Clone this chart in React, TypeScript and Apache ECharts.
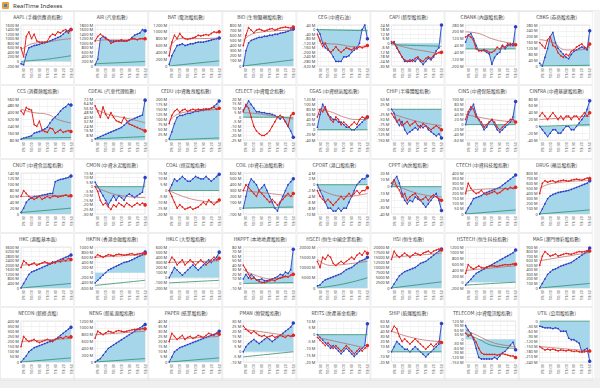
import React, { useEffect, useRef } from "react";
import * as echarts from "echarts";

const times = ["09:15","09:30","09:40","09:50","10:00","10:10","10:20","10:30","10:40","10:50","11:00","11:10","11:20","11:30","13:00","13:10","13:20","13:30","13:40","13:50"];
const labelIdx = [0, 1, 4, 7, 10, 13, 16, 19];

const titles = [
  "AAPL (手機供應商指數)", "AIR (汽車指數)", "BAT (電池股指數)", "BIO (生物醫藥股指數)", "CEG (中資石油)", "CAPI (新型股指數)", "CBANK (內銀股指數)", "CBKG (券商股指數)",
  "CCS (消費類股指數)", "CDEAL (汽車代理指數)", "CEDU (中資教育股指數)", "CELECT (中資電企指數)", "CGAS (中資燃氣股指數)", "CHIP (半導體股指數)", "CINS (中資保險股指數)", "CINFRA (中資基建股指數)",
  "CNUT (中資食品股指數)", "CMON (中資水泥股指數)", "COAL (煤炭股指數)", "COIL (中資石油股指數)", "CPORT (港口股指數)", "CPPT (內房股指數)", "CTECH (中資科技股指數)", "DRUG (藥品股指數)",
  "HKC (港股基本面)", "HKFIN (香港金融股指數)", "HKLC (大型股指數)", "HKPPT (本地地產股指數)", "HSCEI (恒生中國企業指數)", "HSI (恒生指數)", "HSTECH (恒生科技指數)", "MAG (澳門博彩股指數)",
  "NECON (新經濟股)", "NENG (新能源股指數)", "PAPER (紙業股指數)", "PMAN (物管股指數)", "REITS (房產基金指數)", "SHIP (航運股指數)", "TELECOM (中資電訊股指數)", "UTIL (公用股指數)"
];

const yMin = [-200, 0, 0, 0, -320, -30, -200, 0,
  80, 0, 0, -25, -40, -150, -60, -40,
  0, -30, -20, -100, -10, -40, 0, 0,
  0, -600, -200, -10, 0, 0, -200, 0,
  0, 0, 0, -10, -20, -20, -150, -240];
const yMax = [1600, 1800, 1200, 800, 40, 24, 280, 280,
  560, 72, 200, 20, 120, 50, 100, 80,
  140, 15, 15, 600, 4, 20, 400, 800,
  3600, 1000, 600, 80, 20000, 20000, 1200, 900,
  400, 1200, 40, 30, 10, 60, 120, 0];
const yStep = [200, 200, 200, 100, 40, 6, 80, 40,
  80, 8, 25, 5, 20, 25, 20, 20,
  20, 5, 5, 100, 2, 10, 50, 100,
  400, 200, 100, 10, 5000, 2500, 200, 100,
  50, 200, 5, 5, 5, 10, 30, 30];

const blueValues = [
  [-100, -150, 300, 600, 650, 700, 720, 750, 800, 820, 850, 900, 950, 1000, 1050, 1100, 1200, 1300, 1350, 1400],
  [50, 300, 1200, 1300, 1250, 1150, 1100, 1100, 1100, 1100, 1100, 1100, 1100, 1150, 1250, 1350, 1400, 1450, 1600, 1550],
  [50, 300, 450, 600, 620, 650, 600, 620, 650, 650, 680, 700, 700, 700, 720, 740, 760, 780, 800, 820],
  [0, 300, 450, 500, 520, 540, 560, 560, 580, 580, 600, 600, 620, 620, 640, 650, 660, 680, 700, 720],
  [0, -40, -120, -160, -180, -200, -240, -280, -280, -280, -240, -240, -230, -200, -180, -160, -120, 0, 40, -80],
  [0, 2, -6, -12, -18, -24, -24, -24, -22, -24, -20, -24, -28, -24, -20, -22, -18, -10, -6, 24],
  [80, 160, 180, 120, 40, -20, -20, -20, -40, -60, -180, -100, -60, -40, 40, 0, 40, 60, 40, 260],
  [20, 0, 60, 120, 200, 230, 160, 120, 100, 80, 60, 50, 80, 100, 110, 120, 130, 120, 110, 240],
  [90, 100, 110, 120, 130, 160, 170, 180, 190, 210, 230, 280, 320, 350, 380, 420, 450, 470, 500, 490],
  [2, 4, 6, 8, 10, 12, 14, 16, 18, 20, 22, 26, 30, 34, 36, 38, 40, 42, 44, 70],
  [5, 40, 80, 110, 120, 120, 125, 130, 130, 135, 140, 140, 145, 145, 150, 150, 155, 165, 175, 190],
  [8, 12, 18, 14, 10, 6, 6, 5, 5, 4, 4, 3, 2, 0, -2, 0, -5, -10, -15, -22],
  [10, 60, 100, 80, 60, 50, 40, 40, 30, 30, 20, 10, 10, 0, 0, 10, 20, 30, 40, 50],
  [0, -20, -60, -80, -60, -100, -120, -110, -100, -90, -100, -80, -90, -80, -100, -110, -120, -130, -120, -140],
  [0, 40, 60, 80, 40, 20, 0, -20, -10, 10, 20, 0, -20, -30, -20, -10, 0, 10, 30, 90],
  [0, -10, -20, -30, -20, -10, -10, -20, -20, -10, 0, 0, -10, -10, 0, 10, 20, 30, 50, 75],
  [5, 20, 40, 50, 55, 60, 60, 62, 64, 66, 68, 70, 70, 110, 115, 118, 120, 122, 125, 130],
  [5, 0, -5, -10, -15, -20, -15, -10, -15, -10, -12, -15, -10, -8, -10, -12, -10, -8, -6, 10],
  [0, 5, 10, 8, 10, 12, 10, 8, 8, 10, 12, 11, 10, 10, 12, 10, 8, 10, 12, 14],
  [0, 200, 400, 500, 450, 400, 300, 350, 400, 300, 200, 100, 0, -50, 100, 200, 300, 400, 450, 500],
  [0, -2, -4, -6, -8, -8, -9, -9, -8, -9, -8, -8, -6, -4, -2, 0, 1, 2, 2, 3],
  [0, 10, 15, 5, -10, -20, -25, -20, -22, -15, -18, -20, -25, -30, -25, -20, -15, -10, -20, -35],
  [10, 60, 100, 150, 160, 170, 180, 200, 210, 220, 230, 240, 250, 260, 280, 300, 320, 340, 360, 380],
  [0, 100, 200, 300, 350, 380, 400, 420, 430, 440, 450, 460, 480, 500, 520, 540, 560, 580, 600, 650],
  [0, 400, 800, 1200, 1400, 1500, 1600, 1700, 1800, 1900, 2000, 2100, 2200, 2300, 2400, 2500, 2600, 2700, 2800, 2900],
  [-400, -300, -200, -100, 0, 100, 150, 200, 250, 300, 350, 400, 420, 450, 500, 550, 600, 650, 700, 800],
  [0, 100, 200, 150, 100, 50, 100, 150, 200, 250, 200, 150, 200, 250, 300, 350, 300, 350, 400, 500],
  [10, 20, 12, 20, 14, 8, 8, 10, 6, 6, 8, 10, 12, 15, 20, 18, 25, 22, 30, 75],
  [1000, 1500, 3000, 4000, 4500, 5000, 5500, 6000, 6500, 7000, 8000, 9000, 9500, 10000, 11000, 12000, 13000, 13500, 14000, 15000],
  [0, 2000, 4000, 6000, 7000, 8000, 8500, 9000, 9500, 10000, 11000, 12000, 12500, 13000, 14000, 15000, 16000, 17000, 18000, 19000],
  [-100, 0, 100, 200, 300, 350, 400, 450, 500, 550, 600, 650, 700, 750, 800, 850, 900, 950, 1000, 1100],
  [0, 100, 200, 300, 350, 400, 420, 450, 480, 500, 520, 540, 560, 600, 640, 680, 720, 760, 800, 880],
  [0, 30, 60, 100, 120, 140, 150, 160, 170, 180, 190, 200, 210, 220, 240, 260, 280, 300, 320, 340],
  [0, 50, 100, 200, 300, 400, 450, 500, 550, 600, 650, 700, 750, 800, 850, 900, 950, 1000, 1050, 1100],
  [0, 5, 10, 12, 14, 15, 16, 17, 18, 19, 20, 21, 22, 23, 24, 25, 26, 27, 28, 30],
  [0, 5, 8, 10, 12, 10, 8, 10, 12, 14, 12, 10, 12, 14, 16, 18, 20, 22, 24, 28],
  [0, -2, -4, -6, -8, -10, -8, -10, -12, -14, -12, -10, -12, -14, -16, -14, -12, -10, -8, 8],
  [0, 10, 20, 15, 10, 5, 5, 0, 5, 10, 5, 0, -5, -10, -5, 0, 5, 10, 15, 55],
  [90, 60, 40, 0, -60, -120, -130, -130, -130, -130, -130, -120, -130, -110, -90, -80, -60, -40, -20, -70],
  [-30, -35, -40, -40, -40, -45, -40, -45, -60, -60, -60, -100, -110, -110, -120, -130, -180, -170, -160, -235]
];

const redValues = [
  [600, 200, 1100, 1300, 1000, 1200, 900, 850, 850, 850, 880, 1100, 1200, 1150, 1300, 1250, 1350, 1400, 1250, 1400],
  [1100, 1300, 1400, 1300, 1200, 1150, 1000, 1050, 1100, 1100, 1150, 1100, 1100, 1150, 1200, 1200, 1150, 1200, 1200, 1200],
  [300, 700, 900, 800, 950, 850, 800, 780, 800, 820, 850, 900, 880, 900, 920, 900, 950, 1000, 980, 1000],
  [400, 600, 750, 700, 650, 700, 720, 700, 680, 700, 720, 730, 700, 720, 740, 750, 760, 750, 740, 760],
  [-40, -100, -150, -120, -170, -200, -180, -150, -180, -200, -180, -160, -170, -180, -160, -170, -150, -160, -150, -140],
  [2, 0, -6, -12, -18, -22, -24, -22, -24, -20, -18, -22, -24, -20, -18, -20, -16, -14, -12, -12],
  [140, 160, 140, 100, 0, -20, -20, -10, -20, -40, -40, -20, 20, 0, 40, 20, 60, 40, 60, 50],
  [160, 140, 120, 180, 200, 140, 130, 90, 70, 60, 80, 70, 100, 110, 130, 140, 150, 130, 120, 150],
  [420, 380, 460, 440, 430, 260, 240, 300, 200, 180, 170, 220, 210, 160, 180, 200, 170, 180, 190, 180],
  [60, 50, 40, 58, 45, 38, 48, 40, 34, 32, 30, 40, 34, 28, 26, 24, 22, 20, 18, 16],
  [80, 120, 140, 150, 135, 145, 150, 140, 145, 150, 145, 150, 148, 150, 152, 150, 155, 160, 150, 155],
  [6, 14, 10, 0, -10, -15, -18, -20, -20, -18, -15, -10, -5, 0, 2, 0, -5, -10, 2, 4],
  [50, 80, 70, 90, 60, 40, 30, 50, 40, 20, 30, 20, 10, 20, 30, 20, 40, 50, 45, 50],
  [-20, -40, -60, -50, -80, -70, -60, -80, -70, -60, -80, -90, -70, -80, -90, -100, -90, -80, -90, -100],
  [20, 50, 70, 60, 30, 20, 10, -10, 0, 10, 20, 10, -10, -20, -10, 0, 10, 20, 20, 10],
  [30, 40, 30, 20, 30, 40, 30, 20, 30, 20, 30, 30, 20, 30, 30, 20, 30, 40, 30, 40],
  [60, 80, 70, 60, 55, 50, 55, 60, 50, 55, 60, 55, 60, 62, 58, 60, 62, 65, 60, 62],
  [0, -5, -15, -20, -18, -22, -25, -20, -22, -18, -20, -22, -18, -20, -22, -20, -18, -20, -18, -20],
  [0, -5, -10, -15, -12, -14, -16, -15, -14, -16, -15, -14, -12, -10, -12, -8, -10, -12, -10, -8],
  [300, 400, 350, 300, 250, 200, 300, 250, 200, 150, 100, 150, 100, 50, 100, 150, 200, 250, 200, 250],
  [-2, -4, -5, -6, -5, -6, -7, -6, -5, -4, -5, -4, -3, -4, -3, -2, -3, -2, -2, -1],
  [5, 10, 0, -5, -15, -10, -20, -15, -12, -10, -15, -20, -18, -15, -20, -15, -12, -15, -18, -20],
  [200, 300, 250, 220, 200, 210, 230, 200, 190, 200, 210, 220, 200, 210, 230, 250, 240, 260, 250, 260],
  [400, 600, 650, 620, 640, 650, 620, 640, 650, 660, 650, 640, 660, 670, 680, 670, 660, 680, 700, 690],
  [1800, 2400, 2200, 2000, 2100, 2200, 2000, 2100, 2200, 2300, 2200, 2100, 2300, 2200, 2400, 2300, 2500, 2400, 2600, 2500],
  [600, 700, 650, 600, 650, 700, 680, 650, 700, 720, 700, 680, 700, 720, 740, 700, 720, 740, 760, 750],
  [300, 400, 350, 250, 300, 350, 250, 300, 350, 300, 250, 300, 350, 300, 250, 300, 350, 400, 350, 380],
  [40, 30, 20, 10, 12, 8, 4, 2, 2, 4, 6, 8, 6, 10, 12, 14, 16, 14, 18, 20],
  [13000, 10000, 15000, 14000, 16000, 15000, 12000, 11000, 12000, 13000, 12000, 13000, 14000, 15000, 14000, 16000, 17000, 16000, 18000, 17000],
  [14000, 18000, 16000, 15000, 16000, 17000, 16000, 15000, 16000, 17000, 16500, 16000, 17000, 17500, 18000, 17000, 18000, 18500, 19000, 18500],
  [300, 600, 500, 450, 500, 550, 500, 480, 520, 540, 560, 550, 540, 560, 580, 600, 590, 600, 620, 610],
  [500, 700, 800, 750, 700, 720, 750, 700, 720, 740, 760, 750, 740, 760, 780, 800, 790, 800, 820, 810],
  [150, 250, 220, 200, 210, 220, 200, 190, 200, 210, 220, 210, 200, 220, 230, 240, 230, 250, 240, 245],
  [700, 900, 850, 800, 850, 900, 880, 860, 900, 920, 900, 880, 900, 920, 940, 950, 960, 950, 980, 970],
  [20, 28, 25, 22, 24, 26, 22, 24, 25, 23, 24, 26, 25, 24, 26, 28, 27, 26, 28, 27],
  [25, 22, 20, 18, 20, 18, 16, 15, 16, 14, 15, 16, 14, 15, 16, 15, 14, 16, 15, 16],
  [-2, -4, -6, -8, -6, -8, -10, -8, -10, -12, -10, -8, -10, -12, -14, -12, -10, -12, -10, -8],
  [40, 50, 45, 30, 20, 25, 20, 15, 20, 25, 20, 15, 10, 5, 10, 15, 10, 15, 20, 18],
  [40, 20, 30, 10, -20, -60, -90, -100, -100, -100, -100, -100, -105, -100, -95, -100, -105, -110, -110, -120],
  [-150, -160, -170, -165, -170, -165, -170, -175, -170, -172, -175, -170, -175, -178, -175, -180, -182, -180, -178, -175]
];

const brownValues = [
  [[0, 500], [5, 800], [10, 850], [15, 950], [19, 1000]],
  [[0, 1100], [5, 1150], [10, 1150], [19, 1200]],
  [[0, 500], [4, 800], [10, 800], [19, 820]],
  [[0, 500], [5, 650], [19, 700]],
  [[0, -40], [3, -120], [8, -130], [14, -150], [19, -140]],
  [[0, 0], [6, -6], [12, -10], [19, -14]],
  [[0, 200], [5, 180], [10, 120], [15, 80], [19, 60]],
  [[0, 180], [5, 160], [10, 110], [15, 110], [19, 130]],
  [[0, 440], [5, 400], [10, 380], [14, 320], [19, 280]],
  [[0, 55], [5, 45], [10, 40], [15, 35], [19, 30]],
  [[0, 90], [4, 130], [10, 140], [19, 150]],
  [[0, 5], [5, 4], [10, 2], [15, 0], [19, -2]],
  [[0, 80], [5, 70], [10, 50], [15, 40], [19, 40]],
  [[0, -20], [10, -60], [19, -80]],
  [[0, 40], [10, 20], [19, 10]],
  [[0, 20], [19, 30]],
  [[0, 60], [10, 62], [19, 65]],
  [[0, 0], [10, -10], [19, -12]],
  [[0, 0], [10, -8], [19, -10]],
  [[0, 300], [10, 250], [19, 200]],
  [[0, -1], [10, -4], [19, -3]],
  [[0, 5], [10, -10], [19, -15]],
  [[0, 220], [5, 240], [19, 250]],
  [[0, 500], [5, 600], [19, 650]],
  [[0, 2000], [10, 2200], [19, 2400]],
  [[0, 600], [19, 700]],
  [[0, 300], [19, 330]],
  [[0, 30], [6, 15], [12, 10], [19, 20]],
  [[0, 14000], [5, 11000], [10, 11500], [19, 13000]],
  [[0, 15000], [10, 16000], [19, 17000]],
  [[0, 400], [19, 560]],
  [[0, 600], [19, 780]],
  [[0, 200], [19, 230]],
  [[0, 800], [19, 900]],
  [[0, 22], [19, 25]],
  [[0, 22], [19, 15]],
  [[0, -2], [19, -10]],
  [[0, 40], [10, 25], [19, 20]],
  [[0, 60], [5, 20], [10, -20], [15, -40], [19, -50]],
  [[0, -150], [19, -175]]
];

const greenValues = [
  [[0, 0], [5, 50], [10, 100], [15, 180], [19, 250]],
  [[0, 100], [10, 150], [19, 200]],
  [[0, 0], [10, 80], [19, 150]],
  [[0, 0], [19, 120]],
  [[0, 0], [19, -10]],
  [[0, -2], [19, -4]],
  [[0, 0], [19, 0]],
  [[0, 0], [19, 5]],
  [[0, 100], [19, 110]],
  [[0, 2], [19, 6]],
  [[0, 0], [19, 10]],
  [[0, 0], [19, 0]],
  [[0, 0], [19, 0]],
  [[0, 0], [19, 0]],
  [[0, 0], [19, 0]],
  [[0, 0], [19, 5]],
  [[0, 5], [19, 20]],
  [[0, 0], [19, 0]],
  [[0, 0], [19, 0]],
  [[0, 0], [19, 20]],
  [[0, 0], [19, 0]],
  [[0, 0], [19, 0]],
  [[0, 0], [19, 40]],
  [[0, 0], [19, 80]],
  [[0, 0], [19, 400]],
  [[0, -500], [19, -300]],
  [[0, -100], [19, -50]],
  [[0, 0], [19, 2]],
  [[0, 0], [10, 2000], [19, 5000]],
  [[0, 0], [19, 3000]],
  [[0, -100], [19, 0]],
  [[0, 0], [19, 100]],
  [[0, 0], [19, 40]],
  [[0, 0], [19, 100]],
  [[0, 0], [19, 4]],
  [[0, -5], [19, 0]],
  [[0, 0], [19, 0]],
  [[0, 0], [19, 0]],
  [[0, 40], [5, 0], [10, -40], [19, -60]],
  [[0, 0], [19, 0]]
];

const COLW = 74.1;
const ROWH = 74;

function fmt(v: number) {
  return v === 0 ? "0" : v + " M";
}

export default function App() {
  const ref = useRef<HTMLDivElement>(null);
  useEffect(() => {
    if (!ref.current) return;
    const chart = echarts.init(ref.current, undefined, { renderer: "svg" });
    const grids: any[] = [];
    const xAxes: any[] = [];
    const yAxes: any[] = [];
    const series: any[] = [];
    const graphics: any[] = [];

    graphics.push({ type: "rect", shape: { x: 0, y: 0, width: 600, height: 11 }, style: { fill: "#ffffff" }, silent: true });
    graphics.push({ type: "rect", shape: { x: 2, y: 2, width: 7, height: 7, r: 1 }, style: { fill: "#e9a23b" }, silent: true });
    graphics.push({ type: "rect", shape: { x: 4, y: 4, width: 3, height: 3 }, style: { fill: "#4a7fc1" }, silent: true });
    graphics.push({ type: "text", x: 13, y: 5.5, style: { text: "RealTime Indexes", fontSize: 6, fill: "#333", verticalAlign: "middle", fontFamily: "Noto Sans, sans-serif" } });
    graphics.push({ type: "line", shape: { x1: 0, y1: 11, x2: 600, y2: 11 }, style: { stroke: "#dcdcdc", lineWidth: 1 } });
    graphics.push({ type: "rect", shape: { x: 0, y: 378, width: 600, height: 10 }, style: { fill: "#efefef" }, silent: true });
    graphics.push({ type: "rect", shape: { x: 594, y: 11, width: 6, height: 367 }, style: { fill: "#f4f4f4" }, silent: true });

    const showIdx = (i: number) => labelIdx.indexOf(i) >= 0;

    for (let i = 0; i < titles.length; i++) {
      const col = i % 8;
      const row = Math.floor(i / 8);
      const px = col * COLW;
      const py = 11 + row * ROWH;
      const left = px + 21;
      const top = 25 + row * ROWH;
      graphics.push({ type: "rect", shape: { x: px + 0.5, y: py + 0.5, width: COLW - 1, height: ROWH - 1 }, style: { fill: "none", stroke: "#e3e3e3", lineWidth: 0.6 }, silent: true });
      graphics.push({ type: "text", x: px + 38, y: top - 8.5, style: { text: titles[i], fontSize: 4.8, fill: "#444", align: "center", verticalAlign: "middle", fontFamily: "Noto Sans CJK TC, sans-serif" } });

      grids.push({ left, top, width: 50, height: 41, show: true, borderColor: "#cfcfcf", borderWidth: 0.5, backgroundColor: "#ffffff" });
      xAxes.push({
        gridIndex: i, type: "category", data: times, boundaryGap: false,
        axisTick: { show: false },
        axisLine: { show: false },
        axisLabel: { interval: (idx: number) => showIdx(idx), rotate: 90, fontSize: 4, color: "#555", margin: 2, fontFamily: "Noto Sans, sans-serif" },
        splitLine: { show: true, interval: (idx: number) => showIdx(idx), lineStyle: { color: "#ececec", width: 0.5 } }
      });
      yAxes.push({
        gridIndex: i, type: "value", min: yMin[i], max: yMax[i], interval: yStep[i],
        axisTick: { show: false }, axisLine: { show: false },
        axisLabel: { fontSize: 4, lineHeight: 4, color: "#444", margin: 2, formatter: fmt, fontFamily: "Noto Sans, sans-serif" },
        splitLine: { lineStyle: { color: "#e6e6e6", width: 0.5 } }
      });
      const sz = (v: any, p: any) => (p.dataIndex === 19 ? 3.5 : 1.6);
      series.push({
        type: "line", xAxisIndex: i, yAxisIndex: i, data: blueValues[i], z: 2,
        symbol: "circle", symbolSize: sz, showSymbol: true,
        lineStyle: { color: "#2b3fc4", width: 0.9 }, itemStyle: { color: "#2b3fc4" },
        areaStyle: { color: "#a6d6e9", opacity: 1 }
      });
      series.push({
        type: "line", xAxisIndex: i, yAxisIndex: i, data: brownValues[i], z: 3, symbol: "none", smooth: true,
        lineStyle: { color: "#b5625c", width: 0.7 }
      });
      series.push({
        type: "line", xAxisIndex: i, yAxisIndex: i, data: greenValues[i], z: 3, symbol: "none", smooth: true,
        lineStyle: { color: "#2f8f6a", width: 0.8 }
      });
      series.push({
        type: "line", xAxisIndex: i, yAxisIndex: i, data: redValues[i], z: 4,
        symbol: "circle", symbolSize: sz, showSymbol: true,
        lineStyle: { color: "#e3231f", width: 1 }, itemStyle: { color: "#e3231f" }
      });
    }

    chart.setOption({
      animation: false,
      backgroundColor: "#ffffff",
      grid: grids,
      xAxis: xAxes,
      yAxis: yAxes,
      series,
      graphic: graphics
    });
    return () => chart.dispose();
  }, []);
  return <div ref={ref} style={{ position: "absolute", left: 0, top: 0, width: 600, height: 388 }} />;
}
